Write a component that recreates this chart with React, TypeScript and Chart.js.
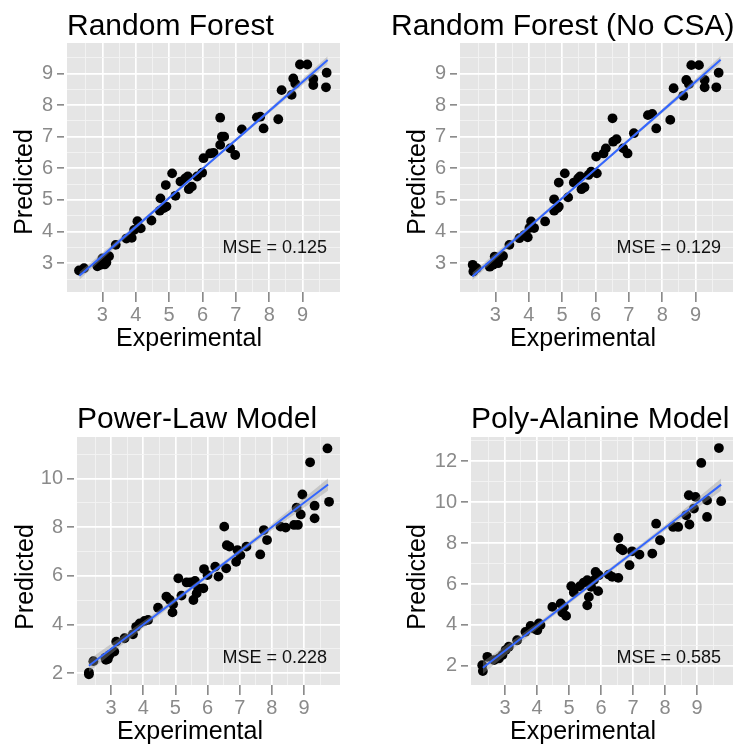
import React, { useEffect, useRef } from "react";
import { Chart, registerables } from "chart.js";

Chart.register(...registerables);

const FONT = "'Liberation Sans', Arial, Helvetica, sans-serif";

// ---- shared axis data ----
const xTickLabels = [3, 4, 5, 6, 7, 8, 9];
const xMinorGrid = [2.5, 3.5, 4.5, 5.5, 6.5, 7.5, 8.5, 9.5];
const rfYTicks = [3, 4, 5, 6, 7, 8, 9];
const rfYMinor = [2.5, 3.5, 4.5, 5.5, 6.5, 7.5, 8.5, 9.5];
const plYTicks = [2, 4, 6, 8, 10];
const plYMinor = [3, 5, 7, 9, 11];
const paYTicks = [2, 4, 6, 8, 10, 12];
const paYMinor = [3, 5, 7, 9, 11, 13];

// ---- fitted line ----
const fitX = [2.31, 4.2, 6.03, 7.9, 9.75];

// ---- Random Forest ----
const rfExp = [2.30, 2.45, 2.85, 2.95, 3.00, 3.07, 3.12, 3.20, 3.40, 3.72, 3.88, 3.95, 4.05, 4.15, 4.47, 4.74, 4.72, 4.84, 4.92, 4.90, 5.09, 5.19, 5.34, 5.48, 5.56, 5.59, 5.68, 5.84, 5.99, 6.03, 6.23, 6.33, 6.53, 6.58, 6.53, 6.65, 6.83, 6.98, 7.18, 7.63, 7.73, 7.83, 8.27, 8.37, 8.67, 8.72, 8.78, 8.92, 9.14, 9.32, 9.32, 9.72, 9.70];
const rfPred = [2.77, 2.84, 2.90, 2.95, 3.15, 2.96, 3.02, 3.22, 3.58, 3.78, 3.80, 4.05, 4.33, 4.10, 4.35, 5.05, 4.66, 4.74, 4.79, 5.47, 5.84, 5.13, 5.58, 5.68, 5.74, 5.34, 5.42, 5.74, 5.86, 6.32, 6.47, 6.49, 6.74, 7.00, 7.60, 7.00, 6.63, 6.42, 7.23, 7.61, 7.63, 7.26, 7.55, 8.47, 8.32, 8.84, 8.68, 9.28, 9.28, 8.82, 8.63, 9.02, 8.56];
const rfFit = [2.60, 4.33, 6.01, 7.72, 9.42];
const rfFitLo = [2.48, 4.27, 5.97, 7.66, 9.30];
const rfFitHi = [2.72, 4.39, 6.05, 7.78, 9.54];

// ---- Random Forest (No CSA) ----
const ncExp = [2.32, 2.34, 2.44, 2.83, 2.93, 2.98, 3.08, 3.13, 3.23, 3.42, 3.72, 3.87, 3.97, 4.07, 4.16, 4.02, 4.49, 4.76, 4.76, 4.86, 4.90, 4.90, 5.08, 5.18, 5.35, 5.48, 5.54, 5.58, 5.67, 5.79, 5.87, 6.02, 6.04, 6.24, 6.31, 6.51, 6.53, 6.63, 6.83, 6.96, 7.15, 7.57, 7.70, 7.82, 8.24, 8.34, 8.63, 8.72, 8.80, 8.87, 9.10, 9.27, 9.27, 9.69, 9.62];
const ncPred = [2.95, 2.74, 2.84, 2.89, 2.95, 3.21, 3.00, 3.16, 3.23, 3.58, 3.79, 3.89, 3.82, 4.32, 4.11, 4.11, 4.32, 5.02, 4.66, 4.74, 4.79, 5.55, 5.84, 5.08, 5.55, 5.68, 5.74, 5.34, 5.40, 5.79, 5.89, 6.37, 5.84, 6.47, 6.63, 7.58, 6.84, 6.92, 6.63, 6.47, 7.11, 7.68, 7.72, 7.26, 7.53, 8.53, 8.29, 8.79, 8.66, 9.26, 9.26, 8.79, 8.56, 9.02, 8.56];
const ncFit = [2.58, 4.32, 6.00, 7.72, 9.43];
const ncFitLo = [2.46, 4.26, 5.96, 7.66, 9.31];
const ncFitHi = [2.70, 4.38, 6.04, 7.78, 9.55];

// ---- Power-Law Model ----
const plExp = [2.31, 2.31, 2.45, 2.82, 2.84, 2.90, 2.95, 3.10, 3.16, 3.42, 3.68, 3.78, 3.89, 4.04, 4.15, 4.46, 4.72, 4.83, 4.93, 4.91, 5.09, 5.19, 5.35, 5.47, 5.61, 5.56, 5.66, 5.71, 5.87, 5.89, 6.00, 6.24, 6.34, 6.52, 6.58, 6.60, 6.68, 6.89, 6.93, 7.02, 7.21, 7.64, 7.75, 7.85, 8.27, 8.43, 8.69, 8.81, 8.77, 8.90, 8.95, 9.19, 9.33, 9.33, 9.78, 9.73];
const plPred = [1.96, 2.03, 2.50, 2.64, 2.55, 2.59, 2.75, 2.89, 3.30, 3.44, 3.60, 3.91, 4.05, 4.15, 4.19, 4.69, 5.15, 5.01, 4.83, 4.50, 5.90, 5.19, 5.73, 5.73, 5.79, 5.01, 5.28, 5.49, 5.49, 6.28, 6.03, 6.38, 5.97, 8.02, 6.31, 7.26, 7.20, 6.58, 7.06, 6.85, 7.20, 6.88, 7.88, 7.47, 8.02, 7.98, 8.09, 8.09, 8.80, 8.52, 9.34, 10.66, 8.88, 8.36, 9.04, 11.23];
const plFit = [2.31, 4.20, 6.03, 7.90, 9.75];
const plFitLo = [2.06, 4.08, 5.95, 7.78, 9.50];
const plFitHi = [2.56, 4.32, 6.11, 8.02, 10.00];

// ---- Poly-Alanine Model ----
const paExp = [2.29, 2.31, 2.45, 2.66, 2.81, 2.92, 3.02, 3.12, 3.38, 3.64, 3.80, 3.90, 4.01, 4.11, 4.06, 4.48, 4.74, 4.84, 4.79, 4.91, 5.07, 5.15, 5.34, 5.46, 5.57, 5.57, 5.62, 5.69, 5.78, 5.83, 5.93, 5.91, 6.24, 6.35, 6.54, 6.54, 6.61, 6.68, 6.89, 6.97, 7.20, 7.60, 7.72, 7.84, 8.25, 8.41, 8.66, 8.76, 8.74, 8.95, 8.90, 9.13, 9.31, 9.31, 9.68, 9.75];
const paPred = [2.03, 1.74, 2.44, 2.28, 2.36, 2.52, 2.77, 2.93, 3.25, 3.66, 3.95, 3.82, 3.74, 3.99, 4.07, 4.88, 5.05, 4.88, 4.61, 4.44, 5.89, 5.58, 5.89, 6.07, 6.19, 4.96, 5.37, 5.86, 6.19, 6.59, 6.43, 5.65, 6.46, 6.35, 8.25, 6.30, 7.73, 7.65, 6.92, 7.60, 7.44, 7.49, 8.95, 8.14, 8.79, 8.79, 9.36, 8.91, 10.34, 10.26, 9.69, 11.92, 10.09, 9.28, 12.65, 10.05];
const paFit = [1.90, 4.18, 6.38, 8.63, 10.86];
const paFitLo = [1.60, 4.06, 6.28, 8.51, 10.56];
const paFitHi = [2.20, 4.30, 6.48, 8.75, 11.16];

const xLabel = "Experimental";
const yLabel = "Predicted";

const panelTextPlugin = {
  id: "panelText",
  beforeDraw(chart: any) {
    const { ctx, chartArea } = chart;
    ctx.save();
    ctx.fillStyle = "#E5E5E5";
    ctx.fillRect(chartArea.left, chartArea.top, chartArea.right - chartArea.left, chartArea.bottom - chartArea.top);
    ctx.restore();
  },
  afterDraw(chart: any, _args: any, opts: any) {
    const ctx = chart.ctx;
    ctx.save();
    ctx.fillStyle = "#000000";
    ctx.textBaseline = "alphabetic";
    ctx.font = `30px ${FONT}`;
    ctx.textAlign = "left";
    ctx.fillText(opts.title, opts.titleX, opts.titleY);
    ctx.font = `25px ${FONT}`;
    ctx.textAlign = "center";
    ctx.fillText(xLabel, opts.xLabelX, opts.xLabelY);
    ctx.save();
    ctx.translate(opts.yLabelX, opts.yLabelY);
    ctx.rotate(-Math.PI / 2);
    ctx.fillText(yLabel, 0, 0);
    ctx.restore();
    ctx.font = `18px ${FONT}`;
    ctx.textAlign = "right";
    ctx.fillStyle = "#111111";
    ctx.fillText(opts.note, opts.noteX, opts.noteY);
    ctx.restore();
  },
};

type Spec = {
  left: number; top: number; w: number; h: number;
  padTop: number; padRight: number; yWidth: number; xHeight: number;
  yMin: number; yMax: number; yTicks: number[]; yMinor: number[];
  exp: number[]; pred: number[]; fit: number[]; fitLo: number[]; fitHi: number[];
  text: any;
};

function axisCfg(min: number, max: number, major: number[], minor: number[], isX: boolean, fitSize: number) {
  return {
    type: "linear",
    position: isX ? "bottom" : "left",
    min,
    max,
    afterBuildTicks: (scale: any) => {
      scale.ticks = [...minor, ...major].sort((a, b) => a - b).map((v) => ({ value: v }));
    },
    afterFit: (scale: any) => {
      if (isX) scale.height = fitSize;
      else scale.width = fitSize;
    },
    ticks: {
      autoSkip: false,
      maxRotation: 0,
      padding: isX ? 1 : 4,
      color: "#8A8A8A",
      font: { family: FONT, size: 20 },
      callback: (v: any) => (major.includes(v) ? String(v) : ""),
    },
    grid: {
      color: (c: any) => (c.tick && major.includes(c.tick.value) ? "#FFFFFF" : "#F3F3F3"),
      lineWidth: (c: any) => (c.tick && major.includes(c.tick.value) ? 1.7 : 0.9),
      tickColor: (c: any) => (c.tick && major.includes(c.tick.value) ? "#7F7F7F" : "rgba(0,0,0,0)"),
      tickLength: 10,
      tickWidth: 1.5,
      tickBorderDash: isX ? [] : [7, 3],
      drawTicks: true,
    },
    border: { display: false },
  };
}

function Panel({ spec }: { spec: Spec }) {
  const ref = useRef<HTMLCanvasElement | null>(null);
  useEffect(() => {
    if (!ref.current) return;
    const pts = spec.exp.map((x, i) => ({ x, y: spec.pred[i] }));
    const mk = (arr: number[]) => fitX.map((x, i) => ({ x, y: arr[i] }));
    const chart = new Chart(ref.current, {
      type: "scatter",
      data: {
        datasets: [
          {
            type: "line",
            data: mk(spec.fitLo),
            borderWidth: 0,
            pointRadius: 0,
            fill: false,
            order: 1,
          } as any,
          {
            type: "line",
            data: mk(spec.fitHi),
            borderWidth: 0,
            pointRadius: 0,
            backgroundColor: "rgba(153,153,153,0.4)",
            fill: "-1",
            order: 1,
          } as any,
          {
            type: "line",
            data: mk(spec.fit),
            borderColor: "#3366FF",
            borderWidth: 2,
            pointRadius: 0,
            fill: false,
            tension: 0,
            order: 0,
          } as any,
          {
            type: "scatter",
            data: pts,
            backgroundColor: "#000000",
            borderWidth: 0,
            pointRadius: 4.9,
            pointHoverRadius: 4.9,
            order: 3,
          } as any,
        ],
      },
      options: {
        animation: false,
        responsive: false,
        events: [],
        layout: { padding: { top: spec.padTop, right: spec.padRight, left: 0, bottom: 0 } },
        scales: {
          x: axisCfg(1.94, 10.12, xTickLabels, xMinorGrid, true, spec.xHeight) as any,
          y: axisCfg(spec.yMin, spec.yMax, spec.yTicks, spec.yMinor, false, spec.yWidth) as any,
        },
        plugins: {
          legend: { display: false },
          tooltip: { enabled: false },
          title: { display: false },
          panelText: spec.text,
        } as any,
      },
      plugins: [panelTextPlugin as any],
    });
    return () => chart.destroy();
  }, [spec]);
  return (
    <div style={{ position: "absolute", left: spec.left, top: spec.top, width: spec.w, height: spec.h }}>
      <canvas ref={ref} width={spec.w} height={spec.h} style={{ display: "block" }} />
    </div>
  );
}

const specs: Spec[] = [
  {
    left: 0, top: 0, w: 369, h: 375,
    padTop: 43, padRight: 29, yWidth: 67, xHeight: 83,
    yMin: 2.09, yMax: 9.96, yTicks: rfYTicks, yMinor: rfYMinor,
    exp: rfExp, pred: rfPred, fit: rfFit, fitLo: rfFitLo, fitHi: rfFitHi,
    text: { title: "Random Forest", titleX: 67, titleY: 35, xLabelX: 189, xLabelY: 346, yLabelX: 32, yLabelY: 182, note: "MSE = 0.125", noteX: 327, noteY: 253 },
  },
  {
    left: 369, top: 0, w: 369, h: 375,
    padTop: 43, padRight: 5, yWidth: 91, xHeight: 83,
    yMin: 2.09, yMax: 9.96, yTicks: rfYTicks, yMinor: rfYMinor,
    exp: ncExp, pred: ncPred, fit: ncFit, fitLo: ncFitLo, fitHi: ncFitHi,
    text: { title: "Random Forest (No CSA)", titleX: 22, titleY: 35, xLabelX: 214, xLabelY: 346, yLabelX: 56, yLabelY: 182, note: "MSE = 0.129", noteX: 352, noteY: 253 },
  },
  {
    left: 0, top: 375, w: 369, h: 374,
    padTop: 62, padRight: 29, yWidth: 77, xHeight: 64,
    yMin: 1.52, yMax: 11.7, yTicks: plYTicks, yMinor: plYMinor,
    exp: plExp, pred: plPred, fit: plFit, fitLo: plFitLo, fitHi: plFitHi,
    text: { title: "Power-Law Model", titleX: 77, titleY: 53, xLabelX: 190, xLabelY: 364, yLabelX: 33, yLabelY: 202, note: "MSE = 0.228", noteX: 327, noteY: 288 },
  },
  {
    left: 369, top: 375, w: 369, h: 374,
    padTop: 62, padRight: 5, yWidth: 102, xHeight: 64,
    yMin: 1.06, yMax: 13.19, yTicks: paYTicks, yMinor: paYMinor,
    exp: paExp, pred: paPred, fit: paFit, fitLo: paFitLo, fitHi: paFitHi,
    text: { title: "Poly-Alanine Model", titleX: 102, titleY: 53, xLabelX: 214, xLabelY: 364, yLabelX: 56, yLabelY: 202, note: "MSE = 0.585", noteX: 352, noteY: 288 },
  },
];

export default function App() {
  return (
    <div style={{ position: "absolute", left: 0, top: 0, width: 738, height: 749, background: "#FFFFFF", overflow: "hidden" }}>
      {specs.map((s, i) => (
        <Panel key={i} spec={s} />
      ))}
    </div>
  );
}
